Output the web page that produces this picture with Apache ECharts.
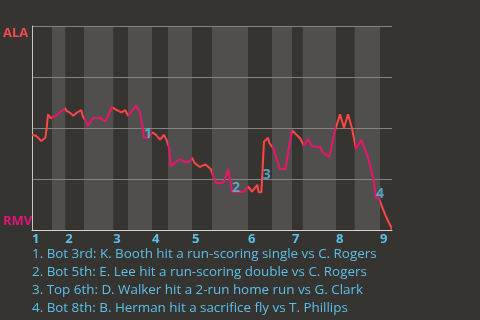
<!DOCTYPE html>
<html><head><meta charset="utf-8">
<script src="https://cdn.jsdelivr.net/npm/echarts@6/dist/echarts.min.js"></script>
<style>html,body{margin:0;padding:0;background:#363430;}#c{width:480px;height:320px;}</style>
</head><body><div id="c"></div>
<script>
// play index (approx. pitch number) and ALA win probability
var playIdx = [0,3,7,10,11,12,14,18,21,25,26,28,31,34,37,38,42,46,51,55,60,63,67,70,72,78,81,83,84,87,90,93,96,99,101,103,104,108,111,114,118,120,122,126,130,134,135,138,143,145,147,149,150,159,162,165,169,170,172,173,174,177,178,181,186,190,195,198,201,204,207,210,216,218,223,227,231,234,237,240,243,247,252,256,258,260,263,265,267,269,270];
var winProb = [0.466,0.462,0.436,0.452,0.499,0.567,0.548,0.560,0.577,0.597,0.583,0.577,0.560,0.577,0.587,0.560,0.511,0.550,0.550,0.531,0.603,0.590,0.577,0.587,0.560,0.609,0.577,0.499,0.452,0.452,0.479,0.466,0.443,0.466,0.440,0.400,0.312,0.335,0.348,0.335,0.335,0.354,0.328,0.309,0.322,0.299,0.293,0.230,0.230,0.250,0.299,0.230,0.188,0.188,0.214,0.188,0.221,0.185,0.185,0.305,0.433,0.452,0.426,0.400,0.299,0.299,0.489,0.469,0.450,0.413,0.446,0.410,0.407,0.381,0.358,0.482,0.567,0.501,0.567,0.499,0.397,0.440,0.358,0.253,0.158,0.158,0.106,0.074,0.044,0.020,0.0];
// half-inning boundaries (play index)
var topHalves = [[0,15],[25,39],[61,72],[90,102],[120,135],[162,180],[195,203],[228,242],[261,270]];
var bottomHalves = [[15,25],[39,61],[72,90],[102,120],[135,162],[180,195],[203,228],[242,261]];
var inningStarts = [0,25,61,90,120,162,195,228,261];
var inningLabels = ['1','2','3','4','5','6','7','8','9'];
var eventIdx = [84,150,173,258];
var eventProb = [0.452,0.188,0.25,0.158];
var eventLabels = ['1','2','3','4'];
var notes = [
 '1. Bot 3rd: K. Booth hit a run-scoring single vs C. Rogers',
 '2. Bot 5th: E. Lee hit a run-scoring double vs C. Rogers',
 '3. Top 6th: D. Walker hit a 2-run home run vs G. Clark',
 '4. Bot 8th: B. Herman hit a sacrifice fly vs T. Phillips'
];
var teamTop = 'ALA', teamBottom = 'RMV';

var RED = '#ff4646', PINK = '#e8156a', BLUE = '#5bc0ea', FONT = 'Open Sans';
var pieces = [];
topHalves.forEach(function(h){ pieces.push({gte:h[0], lt:h[1], color:RED}); });
bottomHalves.forEach(function(h){ pieces.push({gte:h[0], lt:h[1], color:PINK}); });
pieces[topHalves.length-1].lte = 270; delete pieces[topHalves.length-1].lt;

var chart = echarts.init(document.getElementById('c'));
chart.setOption({
  backgroundColor: '#363430',
  animation: false,
  title: {
    text: notes.join('\n'), left: 32, top: 245, padding: 0,
    textStyle: {color: BLUE, fontSize: 13.4, fontWeight: 'normal', lineHeight: 18, fontFamily: FONT}
  },
  grid: {left: 31, right: 88, top: 26, bottom: 90},
  xAxis: {
    type: 'value', min: 0, max: 270, z: 2,
    axisLine: {show: true, lineStyle: {color: '#d2d2d0', width: 1}},
    axisTick: {show: false},
    splitLine: {show: false},
    axisLabel: {
      customValues: inningStarts, align: 'left', margin: 3,
      color: BLUE, fontSize: 13, fontWeight: 'bold', fontFamily: FONT,
      formatter: function(v){ var i = inningStarts.indexOf(v); return i >= 0 ? inningLabels[i] : ''; }
    }
  },
  yAxis: {
    type: 'value', min: 0, max: 1, interval: 0.25, z: 2,
    axisLine: {show: true, lineStyle: {color: '#c4c4c2', width: 1}},
    axisTick: {show: false},
    splitLine: {show: true, lineStyle: {color: '#858482', width: 1}},
    axisLabel: {
      align: 'left', margin: 29, fontFamily: FONT,
      formatter: function(v){ return v === 1 ? '{a|' + teamTop + '}' : (v === 0 ? '{r|' + teamBottom + '}' : ''); },
      rich: {
        a: {color: '#f24a50', fontSize: 13, fontWeight: 'bold', fontFamily: FONT, padding: [14,0,0,0]},
        r: {color: '#e0167a', fontSize: 13, fontWeight: 'bold', fontFamily: FONT, padding: [0,0,18,0]}
      }
    }
  },
  visualMap: {type: 'piecewise', show: false, dimension: 0, seriesIndex: 1, pieces: pieces},
  series: [
    {
      type: 'line', z: 1, data: [], silent: true,
      markArea: {
        silent: true,
        itemStyle: {color: '#504f4d'},
        data: bottomHalves.map(function(h){ return [{xAxis: h[0]}, {xAxis: h[1]}]; })
      }
    },
    {
      type: 'line', z: 3, symbol: 'none',
      lineStyle: {width: 2},
      data: playIdx.map(function(x, i){ return [x, winProb[i]]; })
    },
    {
      type: 'scatter', z: 4, symbolSize: 0,
      data: eventIdx.map(function(x, i){ return [x, eventProb[i], eventLabels[i]]; }),
      label: {
        show: true, position: [0, 3], align: 'left', verticalAlign: 'bottom',
        color: BLUE, fontSize: 14, fontWeight: 'bold', fontFamily: FONT,
        formatter: function(p){ return p.data[2]; }
      }
    }
  ]
});
</script></body></html>
